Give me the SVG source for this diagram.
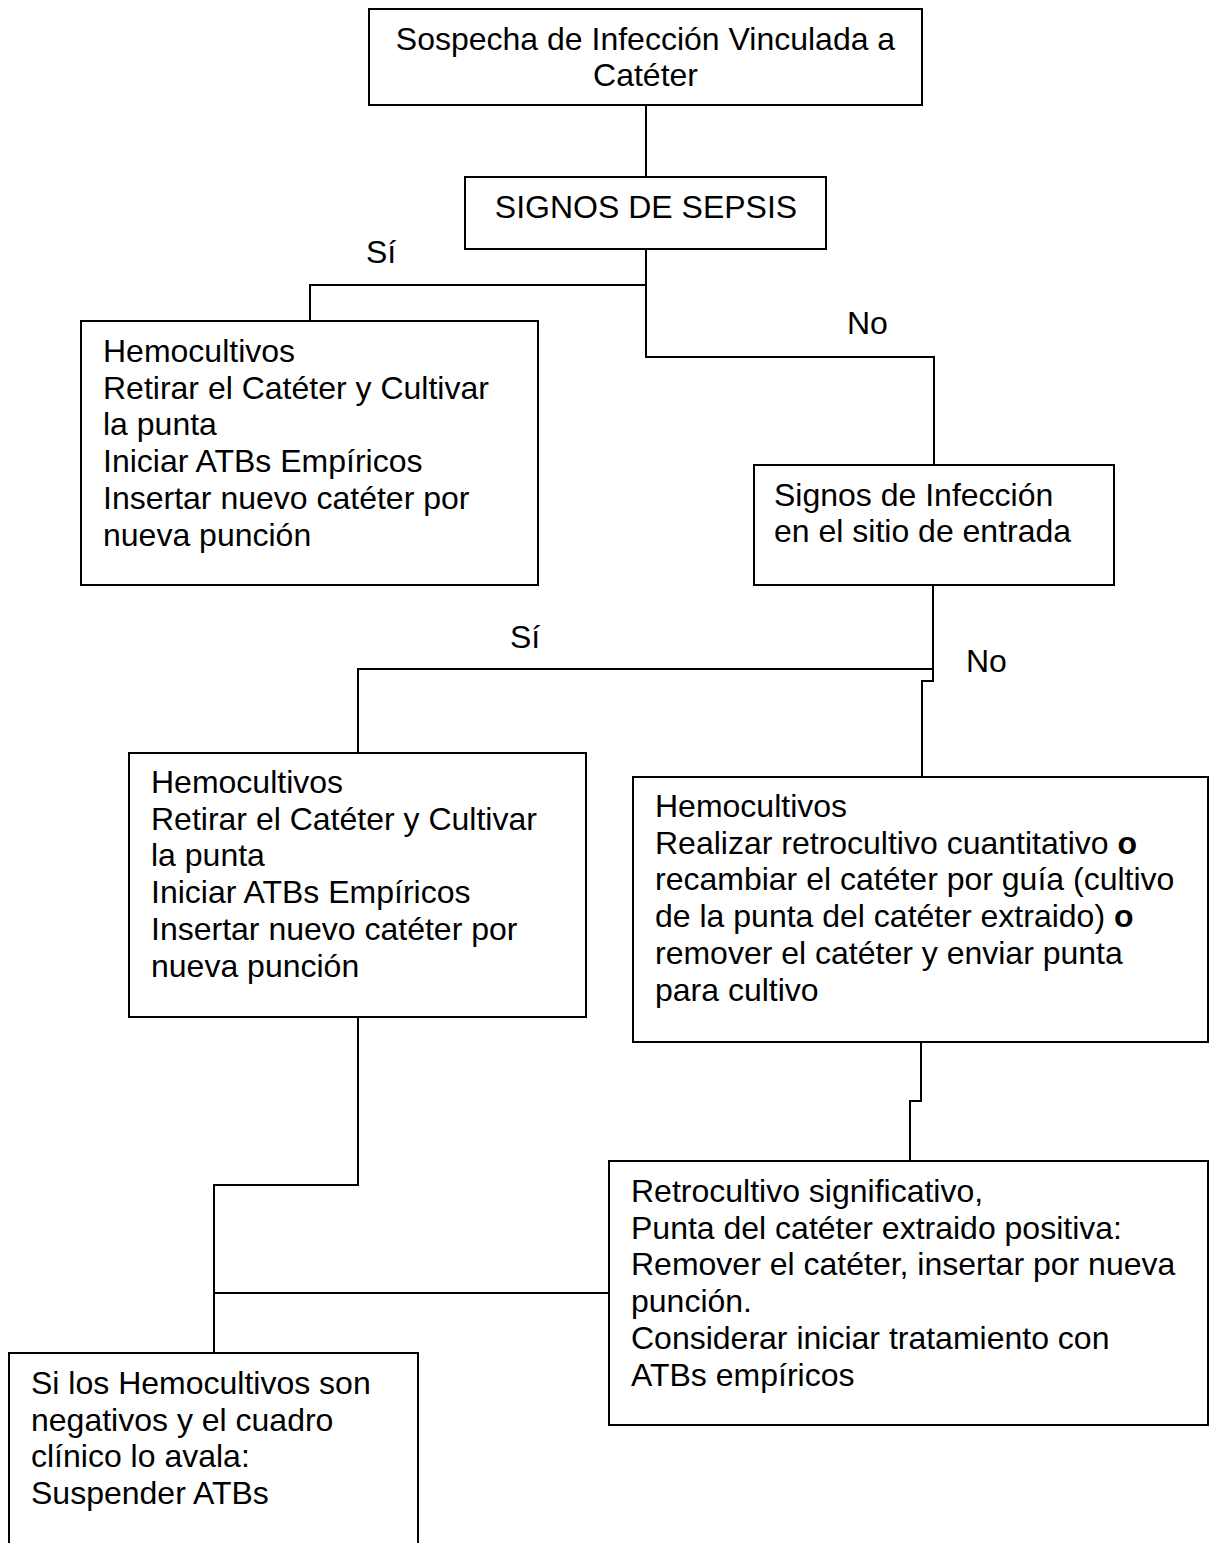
<svg xmlns="http://www.w3.org/2000/svg" width="1210" height="1543" viewBox="0 0 1210 1543">
<style>
.box{fill:#fff;stroke:#000;stroke-width:2}
.ln{fill:none;stroke:#000;stroke-width:2}
text{font-family:"Liberation Sans",Arial,sans-serif;font-size:32px;fill:#000}
.c{text-anchor:middle}
.b{font-weight:bold}
</style>
<rect width="1210" height="1543" fill="#fff"/>
<g id="connectors">
<path class="ln" d="M646,105 V177"/>
<path class="ln" d="M646,249 V357 H934 V465"/>
<path class="ln" d="M646,285 H310 V321"/>
<path class="ln" d="M933,585 V681 H922 V777"/>
<path class="ln" d="M933,669 H358 V753"/>
<path class="ln" d="M921,1042 V1101 H910 V1161"/>
<path class="ln" d="M358,1017 V1185 H214 V1353"/>
<path class="ln" d="M214,1293 H609"/>
</g>
<g id="labels">
<text x="366" y="263">Sí</text>
<text x="847" y="334">No</text>
<text x="510" y="648">Sí</text>
<text x="966" y="672">No</text>
</g>
<g id="n1">
<rect class="box" x="369" y="9" width="553" height="96"/>
<text class="c" x="645.5" y="50">Sospecha de Infección Vinculada a</text>
<text class="c" x="645.5" y="86">Catéter</text>
</g>
<g id="n2">
<rect class="box" x="465" y="177" width="361" height="72"/>
<text class="c" x="646" y="218">SIGNOS DE SEPSIS</text>
</g>
<g id="n3">
<rect class="box" x="81" y="321" width="457" height="264"/>
<text x="103" y="362">Hemocultivos</text>
<text x="103" y="398.7">Retirar el Catéter y Cultivar</text>
<text x="103" y="435.4">la punta</text>
<text x="103" y="472.1">Iniciar ATBs Empíricos</text>
<text x="103" y="508.8">Insertar nuevo catéter por</text>
<text x="103" y="545.5">nueva punción</text>
</g>
<g id="n4">
<rect class="box" x="754" y="465" width="360" height="120"/>
<text x="774" y="506">Signos de Infección</text>
<text x="774" y="542">en el sitio de entrada</text>
</g>
<g id="n5">
<rect class="box" x="129" y="753" width="457" height="264"/>
<text x="151" y="793">Hemocultivos</text>
<text x="151" y="829.7">Retirar el Catéter y Cultivar</text>
<text x="151" y="866.4">la punta</text>
<text x="151" y="903.1">Iniciar ATBs Empíricos</text>
<text x="151" y="939.8">Insertar nuevo catéter por</text>
<text x="151" y="976.5">nueva punción</text>
</g>
<g id="n6">
<rect class="box" x="633" y="777" width="575" height="265"/>
<text x="655" y="817">Hemocultivos</text>
<text x="655" y="853.7">Realizar retrocultivo cuantitativo <tspan class="b">o</tspan></text>
<text x="655" y="890.4">recambiar el catéter por guía (cultivo</text>
<text x="655" y="927.1">de la punta del catéter extraido) <tspan class="b">o</tspan></text>
<text x="655" y="963.8">remover el catéter y enviar punta</text>
<text x="655" y="1000.5">para cultivo</text>
</g>
<g id="n7">
<rect class="box" x="609" y="1161" width="599" height="264"/>
<text x="631" y="1202">Retrocultivo significativo,</text>
<text x="631" y="1238.7">Punta del catéter extraido positiva:</text>
<text x="631" y="1275.4">Remover el catéter, insertar por nueva</text>
<text x="631" y="1312.1">punción.</text>
<text x="631" y="1348.8">Considerar iniciar tratamiento con</text>
<text x="631" y="1385.5">ATBs empíricos</text>
</g>
<g id="n8">
<path class="box" d="M9,1545 V1353 H418 V1545"/>
<text x="31" y="1394">Si los Hemocultivos son</text>
<text x="31" y="1430.7">negativos y el cuadro</text>
<text x="31" y="1467.4">clínico lo avala:</text>
<text x="31" y="1504.1">Suspender ATBs</text>
</g>
</svg>
